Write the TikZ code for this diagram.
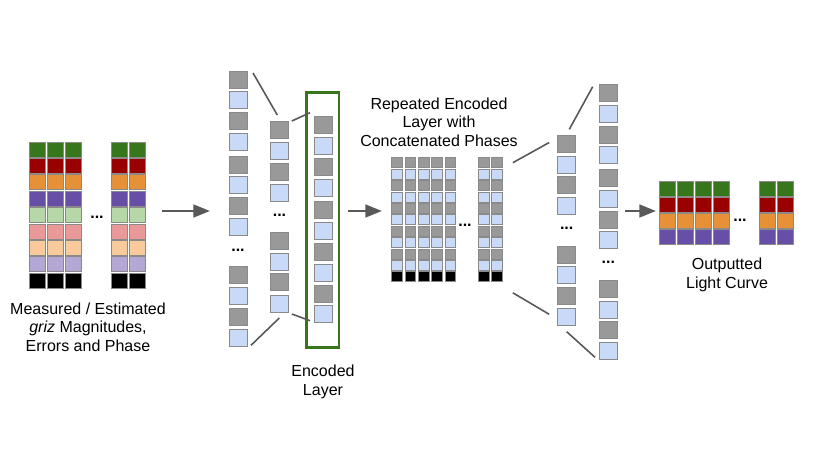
\documentclass[tikz,border=0pt]{standalone}
\usepackage{fontspec}
\setmainfont{Liberation Sans}
\usetikzlibrary{arrows.meta}

\definecolor{cgreen}{HTML}{38761D}
\definecolor{cred}{HTML}{990000}
\definecolor{corange}{HTML}{E69138}
\definecolor{cpurple}{HTML}{674EA7}
\definecolor{lgreen}{HTML}{B6D7A8}
\definecolor{lred}{HTML}{EA9999}
\definecolor{lorange}{HTML}{F9CB9C}
\definecolor{lpurple}{HTML}{B4A7D6}
\definecolor{cgray}{HTML}{999999}
\definecolor{cblue}{HTML}{C9DAF8}
\definecolor{cellline}{HTML}{8A8A8A}
\definecolor{linkgray}{HTML}{595959}

\tikzset{
  cell/.style={anchor=north west,inner sep=0pt,outer sep=0pt,line width=.6pt,draw=cellline,fill=#1},
  bigcell/.style={cell=#1,minimum width=12pt,minimum height=11.25pt},
  netcell/.style={cell=#1,minimum width=13.5pt,minimum height=12.75pt},
  repcell/.style={cell=#1,minimum width=8pt,minimum height=7.6pt},
  dots/.style={inner sep=0pt,font=\fontsize{12}{14}\selectfont\bfseries},
  lbl/.style={align=center,inner sep=0pt,font=\fontsize{12}{14}\selectfont},
  link/.style={draw=linkgray,line width=1.2pt},
  flow/.style={draw=linkgray,line width=2pt,-{Triangle[length=12.5pt,width=9.5pt]}},
  encbox/.style={draw=cgreen,line width=2pt,minimum width=24.2pt,minimum height=191.25pt,inner sep=0pt}
}

\begin{document}
\begin{tikzpicture}[x=0.75pt,y=-0.75pt]
\useasboundingbox (0,0) rectangle (830,467);

% input: measured magnitudes, errors and phase
\foreach \x [count=\j] in {29,47,65,111,129}
  \foreach \cc [count=\i from 0] in {cgreen,cred,corange,cpurple,lgreen,lred,lorange,lpurple,black}
    \node[bigcell=\cc] (in\j-\i) at (\x,142+16.4*\i) {};
\node[dots] (in-dots) at (97,217) {...};
\node[lbl] (in-label) at (88,327) {Measured / Estimated\\\textit{griz} Magnitudes,\\Errors and Phase};

\coordinate (arr1-s) at (162,211);
\coordinate (arr1-e) at (210,211);
\draw[flow] (arr1-s) -- (arr1-e);

% encoder
\foreach \y [count=\i] in {71,91.7,112.3,133.3,156,176.7,197.3,218.3,266.7,287.7,308.3,329.3} {
  \ifodd\i\def\cc{cgray}\else\def\cc{cblue}\fi
  \node[netcell=\cc] (a\i) at (229,\y) {};}
\node[dots] (a-dots) at (238,250) {...};
\foreach \y [count=\i] in {121,142.3,163,184,232,253.3,273.7,295} {
  \ifodd\i\def\cc{cgray}\else\def\cc{cblue}\fi
  \node[netcell=\cc] (b\i) at (270.3,\y) {};}
\node[dots] (b-dots) at (279.5,215) {...};
\foreach \y [count=\i] in {116,137.3,158,179,201.7,222.3,243.3,264.3,285,305.7} {
  \ifodd\i\def\cc{cgray}\else\def\cc{cblue}\fi
  \node[netcell=\cc] (e\i) at (314,\y) {};}
\node[encbox] (enc) at (322.85,219.8) {};
\node[lbl] (enc-label) at (323,382) {Encoded\\Layer};

\draw[link] ([shift={(6,2)}]a1.north east) -- ([shift={(-2,-6)}]b1.north);
\draw[link] ([shift={(4,-1)}]a12.south east) -- ([shift={(0,6)}]b8.south);
\draw[link] ([shift={(3.5,0)}]b1.north east) -- ([shift={(-4,-3.3)}]e1.north west);
\draw[link] ([shift={(3.5,2)}]b8.south east) -- ([shift={(-4,-2)}]e10.south west);

\coordinate (arr2-s) at (348,211);
\coordinate (arr2-e) at (382,211);
\draw[flow] (arr2-s) -- (arr2-e);

% repeated encoded layer
\node[lbl] (rep-label) at (439,122) {Repeated Encoded\\Layer with\\Concatenated Phases};
\foreach \x [count=\j] in {391.7,405,418.3,431.7,445,478.3,491.7}
  \foreach \i in {0,...,10} {
    \ifnum\i=10 \def\cc{black}\else\ifodd\i\def\cc{cblue}\else\def\cc{cgray}\fi\fi
    \node[repcell=\cc] (r\j-\i) at (\x,157.7+11.4*\i) {};}
\node[dots] (r-dots) at (465,225) {...};

% decoder
\foreach \y [count=\i] in {135,156,176.7,197.7,246,266.7,287.3,308.3} {
  \ifodd\i\def\cc{cgray}\else\def\cc{cblue}\fi
  \node[netcell=\cc] (d\i) at (557.7,\y) {};}
\node[dots] (d-dots) at (566.7,228) {...};
\foreach \y [count=\i] in {84.3,105,126,146.7,169,190,211,231.7,280,301,321.7,342.7} {
  \ifodd\i\def\cc{cgray}\else\def\cc{cblue}\fi
  \node[netcell=\cc] (f\i) at (599.3,\y) {};}
\node[dots] (f-dots) at (608.3,262.7) {...};

\draw[link] ([shift={(10.5,5)}]r7-0.north east) -- ([shift={(-8.5,7.5)}]d1.north west);
\draw[link] ([shift={(10.5,11)}]r7-10.south east) -- ([shift={(-8.5,-2.5)}]d8.west);
\draw[link] ([shift={(2.6,-5.7)}]d1.north) -- ([shift={(-6.6,2.4)}]f1.north west);
\draw[link] ([shift={(0,6.4)}]d8.south) -- ([shift={(-4.3,-2.4)}]f12.south west);

\coordinate (arr3-s) at (625,211);
\coordinate (arr3-e) at (656,211);
\draw[flow] (arr3-s) -- (arr3-e);

% output light curve
\foreach \x [count=\j] in {659.3,677.3,695.3,713.3,759.3,777.3}
  \foreach \cc [count=\i from 0] in {cgreen,cred,corange,cpurple}
    \node[bigcell=\cc] (out\j-\i) at (\x,181+16.1*\i) {};
\node[dots] (out-dots) at (740,220) {...};
\node[lbl] (out-label) at (727,275) {Outputted\\Light Curve};
\end{tikzpicture}
\end{document}
